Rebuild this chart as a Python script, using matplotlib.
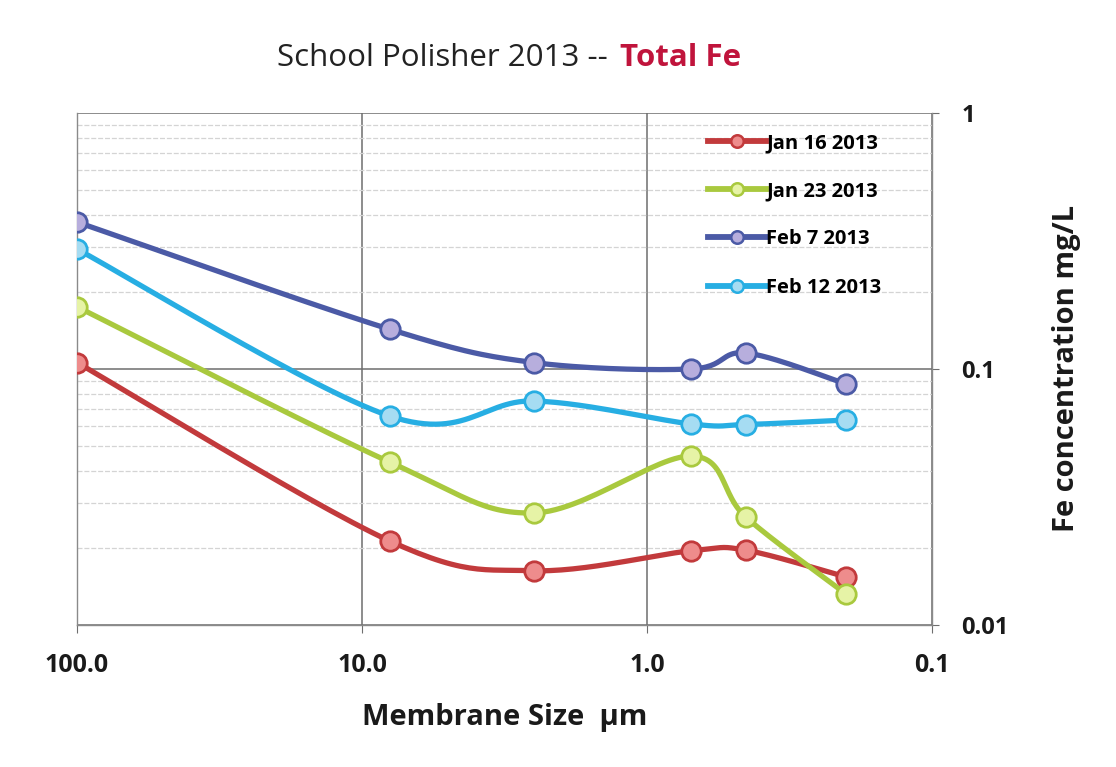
import numpy as np
import matplotlib.pyplot as plt
from matplotlib.ticker import FixedLocator, NullFormatter, LogLocator

# ==========================
# DATA
# ==========================

membrane_size = [100.0, 8.0, 2.5, 0.7, 0.45, 0.2]

jan16 = [0.106, 0.0213, 0.0163, 0.0195, 0.0196, 0.0154]
jan23 = [0.175, 0.0433, 0.0274, 0.0457, 0.0264, 0.0132]
feb7 = [0.375, 0.143, 0.106, 0.100, 0.1155, 0.0874]
feb12 = [0.294, 0.0655, 0.075, 0.061, 0.0607, 0.0632]

series_names = ["Jan 16 2013", "Jan 23 2013", "Feb 7 2013", "Feb 12 2013"]

x_ticks = [100, 10, 1, 0.1]
x_tick_labels = ["100.0", "10.0", "1.0", "0.1"]
y_ticks = [0.01, 0.1, 1]
y_tick_labels = ["0.01", "0.1", "1"]

# ==========================
# STYLE
# ==========================

line_colors = ["#C23A3C", "#A9C93E", "#4B5AA6", "#27AEE3"]
fill_colors = ["#EE8C8C", "#E6F3A6", "#B7AEDD", "#A6DCF2"]

plt.rcParams["font.family"] = ["Open Sans", "DejaVu Sans"]


def smooth(xs, ys, n=30):
    # Catmull-Rom curve through the points, done in log space like Excel smoothing
    px = np.log10(xs)
    py = np.log10(ys)
    pts = np.column_stack([px, py])
    pts = np.vstack([pts[0], pts, pts[-1]])
    out = []
    for i in range(1, len(pts) - 2):
        p0, p1, p2, p3 = pts[i - 1], pts[i], pts[i + 1], pts[i + 2]
        t = np.linspace(0, 1, n)[:, None]
        c = 0.5 * ((2 * p1) + (-p0 + p2) * t +
                   (2 * p0 - 5 * p1 + 4 * p2 - p3) * t ** 2 +
                   (-p0 + 3 * p1 - 3 * p2 + p3) * t ** 3)
        out.append(c)
    out = np.vstack(out)
    return 10 ** out[:, 0], 10 ** out[:, 1]


# ==========================
# FIGURE
# ==========================

fig = plt.figure(figsize=(11.16, 7.67), dpi=100)
ax = fig.add_axes([77 / 1116, 1 - 625 / 767, 855 / 1116, 512 / 767])

ax.set_xscale("log")
ax.set_yscale("log")
ax.set_xlim(100, 0.1)
ax.set_ylim(0.01, 1)

# grid
ax.yaxis.set_minor_locator(LogLocator(base=10, subs=np.arange(2, 10)))
ax.grid(True, which="minor", axis="y", color="#D4D4D4", lw=0.9, ls=(0, (4, 1.5)))
ax.grid(True, which="major", axis="both", color="#6E6E6E", lw=1.1)
ax.xaxis.set_minor_locator(FixedLocator([]))
ax.set_axisbelow(True)

all_series = [jan16, jan23, feb7, feb12]

for vals, name, lc, fc in zip(all_series, series_names, line_colors, fill_colors):
    sx, sy = smooth(membrane_size, vals)
    ax.plot(sx, sy, color=lc, lw=3.8, solid_capstyle="round", zorder=3)
    ax.plot(membrane_size, vals, ls="none", marker="o", markersize=14,
            markerfacecolor=fc, markeredgecolor=lc, markeredgewidth=2, zorder=4)
    # proxy for legend
    ax.plot([], [], color=lc, lw=4.2, marker="o", markersize=9,
            markerfacecolor=fc, markeredgecolor=lc, markeredgewidth=1.8, label=name)

# ticks
ax.set_xticks(x_ticks)
ax.set_xticklabels(x_tick_labels, fontsize=18, fontweight="bold", color="#1A1A1A")
ax.yaxis.tick_right()
ax.yaxis.set_label_position("right")
ax.set_yticks(y_ticks)
ax.set_yticklabels(y_tick_labels, fontsize=17, fontweight="bold", color="#1A1A1A")
ax.yaxis.set_minor_formatter(NullFormatter())
ax.tick_params(axis="x", which="major", length=6, pad=14, color="#6E6E6E")
ax.tick_params(axis="y", which="major", length=5, pad=16, color="#6E6E6E")
ax.tick_params(axis="y", which="minor", length=0)

for side in ["top", "left", "bottom", "right"]:
    ax.spines[side].set_color("#8A8A8A")
    ax.spines[side].set_linewidth(1.0)
ax.spines["top"].set_visible(False)

ax.set_xlabel("Membrane Size  µm", fontsize=21, fontweight="bold",
              color="#1A1A1A", labelpad=18)
ax.set_ylabel("Fe concentration mg/L", fontsize=21, fontweight="bold",
              color="#1A1A1A", labelpad=31)

leg = ax.legend(loc="upper left", bbox_to_anchor=((708 - 77) / 855, (625 - 133) / 512),
                frameon=False, borderpad=0, borderaxespad=0,
                handlelength=2.9, handletextpad=0.0, labelspacing=1.4,
                prop={"weight": "bold", "size": 14.5})

# title
fig.text(616 / 1116, 1 - 58 / 767, "School Polisher 2013 -- ", ha="right",
         va="center", fontsize=22.5, color="#222222")
fig.text(620 / 1116, 1 - 58 / 767, "Total Fe", ha="left", va="center",
         fontsize=22.5, fontweight="bold", color="#C0143C")

plt.savefig("out.png", dpi=100)
